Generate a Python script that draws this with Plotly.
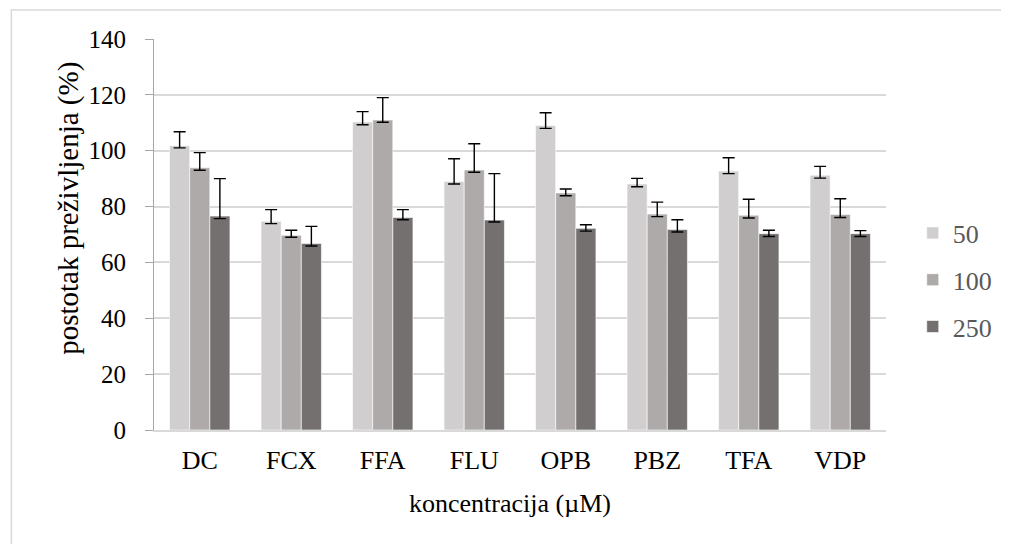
import plotly.graph_objects as go

categories = ["DC", "FCX", "FFA", "FLU", "OPB", "PBZ", "TFA", "VDP"]
series_names = ["50", "100", "250"]

vals_50 = [101.8, 74.7, 110.3, 89.0, 109.0, 88.1, 92.7, 91.2]
vals_100 = [93.9, 69.7, 111.0, 93.1, 84.9, 77.3, 76.9, 77.2]
vals_250 = [76.6, 66.8, 76.1, 75.2, 72.2, 71.8, 70.3, 70.3]

err_plus_50 = [5.0, 4.2, 3.7, 8.1, 4.6, 2.0, 4.8, 3.2]
err_plus_100 = [5.4, 1.8, 8.0, 9.4, 1.4, 4.3, 5.7, 5.6]
err_plus_250 = [13.4, 6.1, 2.8, 16.6, 1.3, 3.5, 1.2, 1.1]

err_minus_50 = [0.8, 0.8, 1.0, 0.9, 1.0, 1.0, 0.9, 1.0]
err_minus_100 = [0.9, 0.7, 0.8, 0.8, 1.0, 0.9, 1.0, 1.1]
err_minus_250 = [0.9, 0.9, 0.8, 0.7, 1.0, 0.9, 1.0, 1.0]

colors = ["#D0CECF", "#AEAAA9", "#757070"]

FONT = "Liberation Serif, Times New Roman, serif"

# page offset: browser body has an 8px margin
OFF = 8
PX_L, PX_R, PX_T, PX_B = 154, 893, 39, 430  # plot area in page pixels
W, H = 1009 - OFF, 544 - OFF
PW, PH = PX_R - PX_L, PX_B - PX_T


def px(xp):
    return (xp - PX_L) / PW


def py(yp):
    return (PX_B - yp) / PH


fig = go.Figure()
for name, vals, ep, em, col in zip(
    series_names,
    [vals_50, vals_100, vals_250],
    [err_plus_50, err_plus_100, err_plus_250],
    [err_minus_50, err_minus_100, err_minus_250],
    colors,
):
    fig.add_trace(go.Bar(
        x=categories, y=vals, name=name, legendgroup=name,
        marker=dict(color=col, line=dict(color="#FFFFFF", width=0.6)),
        error_y=dict(type="data", array=ep, arrayminus=em, symmetric=False,
                     color="#000000", thickness=1.4, width=6),
    ))

fig.update_layout(
    width=W, height=H,
    margin=dict(l=PX_L - OFF, r=W - (PX_R - OFF), t=PX_T - OFF, b=H - (PX_B - OFF)),
    paper_bgcolor="#FFFFFF", plot_bgcolor="#FFFFFF",
    barmode="group", bargap=0.34, bargroupgap=0,
    font=dict(family=FONT, size=26, color="#000000"),
    showlegend=True,
    legend=dict(x=px(920), xanchor="left", y=py(280), yanchor="middle",
                font=dict(family=FONT, size=26, color="#595959"),
                itemwidth=30, traceorder="grouped", tracegroupgap=10,
                bgcolor="rgba(0,0,0,0)"),
    xaxis=dict(
        showgrid=False, showline=True, linecolor="#D9D9D9", linewidth=1.5,
        ticks="", tickfont=dict(family=FONT, size=26, color="#000000"),
        ticklabelstandoff=6,
    ),
    yaxis=dict(
        range=[0, 140], dtick=20, showgrid=True, gridcolor="#D9D9D9", gridwidth=1.5,
        showline=True, linecolor="#A6A6A6", linewidth=1,
        ticks="outside", ticklen=8, tickcolor="#A6A6A6", tickwidth=1,
        tickfont=dict(family=FONT, size=25, color="#000000"),
        ticklabelstandoff=14,
        zeroline=False,
    ),
    annotations=[
        dict(text="postotak preživljenja (%)", textangle=-90, showarrow=False,
             xref="paper", yref="paper", x=px(67), y=py(208),
             xanchor="center", yanchor="middle",
             font=dict(family=FONT, size=29, color="#000000")),
        dict(text="koncentracija (µM)", showarrow=False,
             xref="paper", yref="paper", x=px(513.5), y=py(503),
             xanchor="center", yanchor="middle",
             font=dict(family=FONT, size=26, color="#000000")),
    ],
    shapes=[dict(type="rect", xref="paper", yref="paper",
                 x0=px(10), x1=px(1030), y0=py(560), y1=py(10),
                 line=dict(color="#D9D9D9", width=1.5), fillcolor="rgba(0,0,0,0)",
                 layer="below")],
)

fig.write_html("out.html")
